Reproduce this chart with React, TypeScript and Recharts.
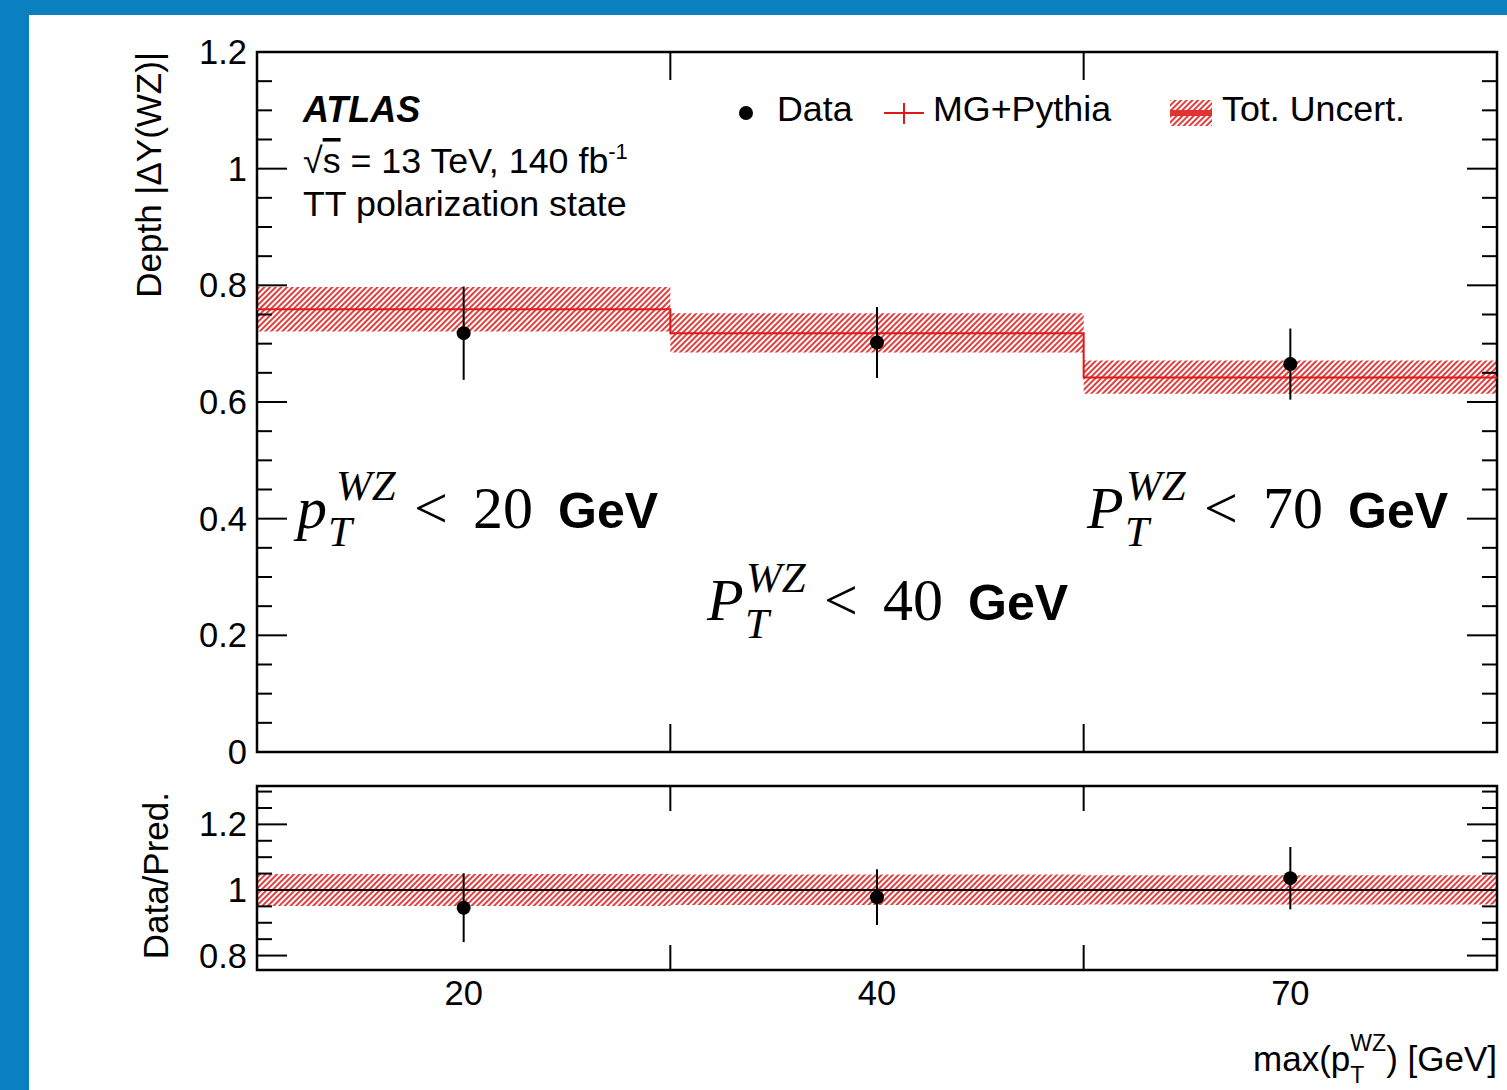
import { ComposedChart, Line, Scatter, ErrorBar, XAxis, YAxis, ReferenceArea, ReferenceLine } from 'recharts';

// bins of max(pT^WZ) on an index axis 0..3
const binEdges = [0, 1, 2, 3];
const binCenters = [0.5, 1.5, 2.5];
const binLabels = ['20', '40', '70'];

// MG+Pythia prediction and total uncertainty band
const mcValues = [0.759, 0.718, 0.642];
const mcLow = [0.721, 0.685, 0.614];
const mcHigh = [0.797, 0.752, 0.671];

// measured depth
const dataValues = [0.718, 0.702, 0.665];
const dataErrors = [0.08, 0.061, 0.061];

// ratio panel
const ratioValues = [0.946, 0.978, 1.036];
const ratioErrors = [0.105, 0.085, 0.095];
const ratioLow = [0.951, 0.954, 0.956];
const ratioHigh = [1.049, 1.047, 1.045];

const mainMajorTicks = [0, 0.2, 0.4, 0.6, 0.8, 1, 1.2];
const mainMinorTicks = [0.05, 0.1, 0.15, 0.25, 0.3, 0.35, 0.45, 0.5, 0.55, 0.65, 0.7, 0.75, 0.85, 0.9, 0.95, 1.05, 1.1, 1.15];
const ratioMajorTicks = [0.8, 1, 1.2];
const ratioMinorTicks = [0.85, 0.9, 0.95, 1.05, 1.1, 1.15, 1.25, 1.3];

const SANS = "'Liberation Sans', Arial, Helvetica, sans-serif";
const SERIF = "'Liberation Serif', 'Times New Roman', serif";
const BLUE = '#0b80c1';
const RED = '#e01818';
const HATCH = '#e03434';
const FS = 35.8;

const W = 1507;
const H = 1090;
const PLOT_L = 257;
const PLOT_R = 1497;
const MAIN_T = 52;
const MAIN_B = 752;
const RATIO_T = 786;
const RATIO_B = 970;

const isIn = (list: number[], v: number) => list.some((m) => Math.abs(m - v) < 1e-6);

const makeYTick = (majors: number[]) => (props: any) => {
  const { y, payload } = props;
  const v = payload.value;
  const major = isIn(majors, v);
  const len = major ? 30 : 15;
  return (
    <g>
      <line x1={PLOT_L} x2={PLOT_L + len} y1={y} y2={y} stroke="#000" strokeWidth={2} />
      <line x1={PLOT_R - len} x2={PLOT_R} y1={y} y2={y} stroke="#000" strokeWidth={2} />
      {major && (
        <text x={PLOT_L - 10} y={y + 12} textAnchor="end" fontFamily={SANS} fontSize={34.5} fill="#000">
          {String(v)}
        </text>
      )}
    </g>
  );
};

const makeXTick = (top: number, bottom: number, len: number) => (props: any) => {
  const { x, payload } = props;
  const c = binCenters.indexOf(payload.value);
  if (c >= 0) {
    return (
      <text x={x} y={1005} textAnchor="middle" fontFamily={SANS} fontSize={34.5} fill="#000">
        {binLabels[c]}
      </text>
    );
  }
  return (
    <g>
      <line x1={x} x2={x} y1={top} y2={top + len} stroke="#000" strokeWidth={2} />
      <line x1={x} x2={x} y1={bottom - len} y2={bottom} stroke="#000" strokeWidth={2} />
    </g>
  );
};

const innerEdges = binEdges.slice(1, -1);
const stepData = binEdges.map((x, i) => ({ x, mc: mcValues[Math.min(i, mcValues.length - 1)] }));
const dataPoints = binCenters.map((x, i) => ({ x, y: dataValues[i], err: dataErrors[i] }));
const ratioPoints = binCenters.map((x, i) => ({ x, y: ratioValues[i], err: ratioErrors[i] }));

const Dot = (p: any) => <circle cx={p.cx} cy={p.cy} r={7} fill="#000" />;

const RegionLabel = ({ x, base, sym, num }: { x: number; base: number; sym: string; num: string }) => {
  const sub = sym === 'p' ? 31 : 38;
  return (
    <g fill="#000">
      <text x={x} y={base} fontFamily={SERIF} fontStyle="italic" fontSize={60}>{sym}</text>
      <text x={x + 39} y={base - 28} fontFamily={SERIF} fontStyle="italic" fontSize={43}>WZ</text>
      <text x={x + sub} y={base + 18} fontFamily={SERIF} fontStyle="italic" fontSize={43}>T</text>
      <text x={x + 117} y={base} fontFamily={SERIF} fontSize={60}>&lt;</text>
      <text x={x + 176} y={base} fontFamily={SERIF} fontSize={60}>{num}</text>
      <text x={x + 261} y={base} fontFamily={SANS} fontWeight="bold" fontSize={50}>GeV</text>
    </g>
  );
};

const Annotations = () => (
  <svg width={W} height={H} style={{ position: 'absolute', left: 0, top: 0, pointerEvents: 'none' }}>
    <text x={303} y={122} fontFamily={SANS} fontWeight="bold" fontStyle="italic" fontSize={36}>ATLAS</text>
    <text x={303} y={173} fontFamily={SANS} fontSize={FS}>
      √<tspan style={{ textDecoration: 'overline' }}>s</tspan> = 13 TeV, 140 fb<tspan dy={-14} fontSize={22}>-1</tspan>
    </text>
    <text x={303} y={216} fontFamily={SANS} fontSize={FS}>TT polarization state</text>

    {/* legend */}
    <circle cx={746} cy={113} r={7} fill="#000" />
    <text x={777} y={121} fontFamily={SANS} fontSize={FS}>Data</text>
    <line x1={884} x2={924} y1={113} y2={113} stroke={RED} strokeWidth={2} />
    <line x1={904} x2={904} y1={103} y2={124} stroke={RED} strokeWidth={2} />
    <text x={933} y={121} fontFamily={SANS} fontSize={FS}>MG+Pythia</text>
    <rect x={1170} y={100} width={42} height={26} fill="url(#hatch)" />
    <rect x={1170} y={110} width={42} height={6} fill={HATCH} />
    <text x={1222} y={121} fontFamily={SANS} fontSize={FS}>Tot. Uncert.</text>

    <RegionLabel x={297} base={528} sym="p" num="20" />
    <RegionLabel x={707} base={620} sym="P" num="40" />
    <RegionLabel x={1087} base={528} sym="P" num="70" />

    {/* axis titles */}
    <text transform="translate(161,52) rotate(-90)" textAnchor="end" fontFamily={SANS} fontSize={35}>
      Depth |ΔY(WZ)|
    </text>
    <text transform="translate(168,792) rotate(-90)" textAnchor="end" fontFamily={SANS} fontSize={35}>
      Data/Pred.
    </text>
    <text x={1497} y={1071} textAnchor="end" fontFamily={SANS} fontSize={35}>
      max(p<tspan dy={12} fontSize={23}>T</tspan>
      <tspan dx={-14} dy={-32} fontSize={23}>WZ</tspan>
      <tspan dy={20}>) [GeV]</tspan>
    </text>
  </svg>
);

export default function App() {
  return (
    <div style={{ position: 'fixed', left: 0, top: 0, width: W, height: H, background: '#fff', overflow: 'hidden' }}>
      <div style={{ position: 'absolute', left: 0, top: 0, width: W, height: 15, background: BLUE }} />
      <div style={{ position: 'absolute', left: 0, top: 0, width: 29, height: H, background: BLUE }} />
      <svg width={0} height={0} style={{ position: 'absolute' }}>
        <defs>
          <pattern id="hatch" patternUnits="userSpaceOnUse" width={4} height={4} patternTransform="rotate(45)">
            <line x1={2} y1={0} x2={2} y2={4} stroke={HATCH} strokeWidth={1.9} />
          </pattern>
        </defs>
      </svg>

      <div style={{ position: 'absolute', left: 0, top: 0 }}>
        <ComposedChart width={W} height={H} margin={{ top: MAIN_T, right: W - PLOT_R, bottom: H - MAIN_B - 1, left: 0 }}>
          <XAxis type="number" dataKey="x" domain={[0, 3]} ticks={innerEdges} interval={0}
            tick={makeXTick(MAIN_T, MAIN_B, 28)} axisLine={false} tickLine={false} height={1} allowDataOverflow />
          <YAxis type="number" domain={[0, 1.2]} ticks={[...mainMajorTicks, ...mainMinorTicks].sort((a, b) => a - b)}
            interval={0} tick={makeYTick(mainMajorTicks)} axisLine={false} tickLine={false} width={PLOT_L} allowDataOverflow />
          {mcValues.map((_, i) => (
            <ReferenceArea key={i} x1={binEdges[i]} x2={binEdges[i + 1]} y1={mcLow[i]} y2={mcHigh[i]}
              fill="url(#hatch)" fillOpacity={1} stroke="none" ifOverflow="visible" />
          ))}
          <Line data={stepData} dataKey="mc" type="stepAfter" stroke={RED} strokeWidth={2} dot={false} isAnimationActive={false} />
          <Scatter data={dataPoints} dataKey="y" shape={Dot} isAnimationActive={false}>
            <ErrorBar dataKey="err" direction="y" width={0} stroke="#000" strokeWidth={2} isAnimationActive={false} />
          </Scatter>
          <ReferenceArea x1={0} x2={3} y1={0} y2={1.2} fill="none" stroke="#000" strokeWidth={2.5} ifOverflow="visible" />
        </ComposedChart>
      </div>

      <div style={{ position: 'absolute', left: 0, top: 0 }}>
        <ComposedChart width={W} height={H} margin={{ top: RATIO_T, right: W - PLOT_R, bottom: H - RATIO_B - 1, left: 0 }}>
          <XAxis type="number" dataKey="x" domain={[0, 3]} ticks={[...innerEdges, ...binCenters].sort((a, b) => a - b)} interval={0}
            tick={makeXTick(RATIO_T, RATIO_B, 25)} axisLine={false} tickLine={false} height={1} allowDataOverflow />
          <YAxis type="number" domain={[0.756, 1.317]} ticks={[...ratioMajorTicks, ...ratioMinorTicks].sort((a, b) => a - b)}
            interval={0} tick={makeYTick(ratioMajorTicks)} axisLine={false} tickLine={false} width={PLOT_L} allowDataOverflow />
          {ratioValues.map((_, i) => (
            <ReferenceArea key={i} x1={binEdges[i]} x2={binEdges[i + 1]} y1={ratioLow[i]} y2={ratioHigh[i]}
              fill="url(#hatch)" fillOpacity={1} stroke="none" ifOverflow="visible" />
          ))}
          <ReferenceLine y={1} stroke="#000" strokeWidth={2} ifOverflow="visible" />
          <Scatter data={ratioPoints} dataKey="y" shape={Dot} isAnimationActive={false}>
            <ErrorBar dataKey="err" direction="y" width={0} stroke="#000" strokeWidth={2} isAnimationActive={false} />
          </Scatter>
          <ReferenceArea x1={0} x2={3} y1={0.756} y2={1.317} fill="none" stroke="#000" strokeWidth={2.5} ifOverflow="visible" />
        </ComposedChart>
      </div>

      <Annotations />
    </div>
  );
}
